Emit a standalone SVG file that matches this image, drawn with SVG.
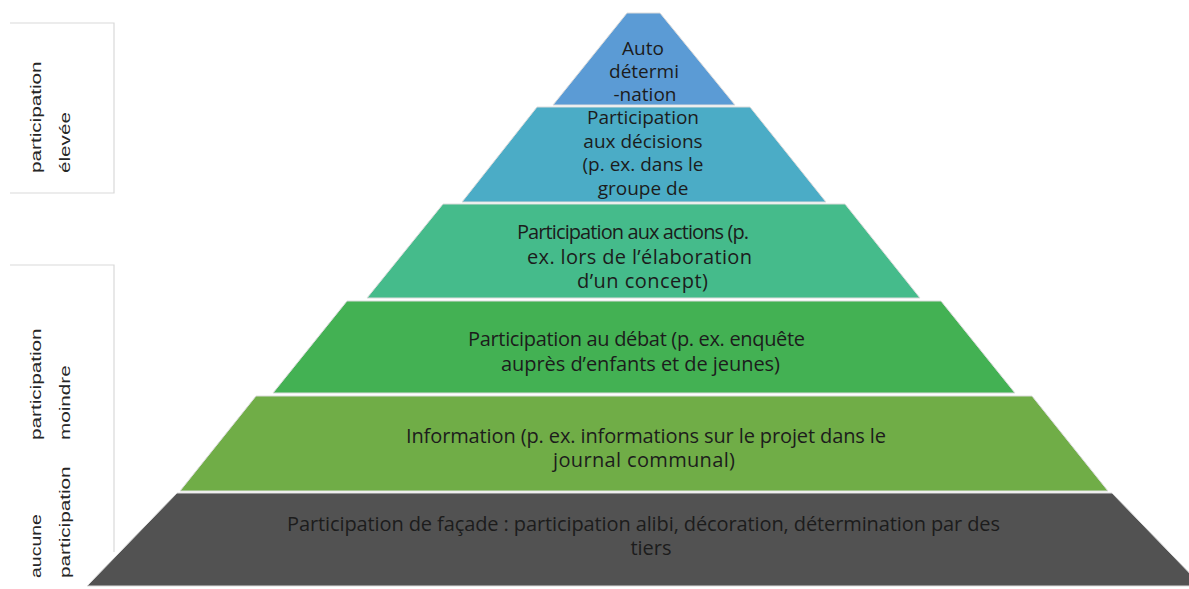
<svg xmlns="http://www.w3.org/2000/svg" width="1189" height="589" viewBox="0 0 1189 589">
  <style>
    .lvl { stroke: #dcdcdc; stroke-width: 1; }
    .pt { font-family: "Open Sans", "Noto Sans", sans-serif; font-size: 20px; fill: #1c1c1c; }
    .ps { font-size: 19px; }
    .pc { text-anchor: middle; }
    .lab { font-family: "Liberation Sans", Arial, sans-serif; font-size: 15px; fill: #262626; }
    .box { fill: #ffffff; stroke: #d9d9d9; stroke-width: 1.2; }
  </style>
  <rect width="1189" height="589" fill="#ffffff"/>

  <g id="label-high">
    <path class="box" d="M10,23 H114 V193 H10"/>
    <text class="lab" transform="translate(41,173) rotate(-90) scale(1.38,1)">participation</text>
    <text class="lab" transform="translate(70,173) rotate(-90) scale(1.38,1)">élevée</text>
  </g>

  <g id="label-low">
    <path class="box" d="M10,265 H114 V552"/>
    <text class="lab" transform="translate(41,440) rotate(-90) scale(1.38,1)">participation</text>
    <text class="lab" transform="translate(70,440) rotate(-90) scale(1.38,1)">moindre</text>
  </g>

  <g id="label-none">
    <text class="lab" transform="translate(41,578) rotate(-90) scale(1.3,1)">aucune</text>
    <text class="lab" transform="translate(70,578) rotate(-90) scale(1.38,1)">participation</text>
  </g>

  <g id="level-1">
    <polygon class="lvl" points="627,13 660,13 735,105 553,105" fill="#5B9BD5"/>
    <text class="pt ps pc" x="643" y="55">Auto</text>
    <text class="pt ps pc" x="644" y="78">détermi</text>
    <text class="pt ps pc" x="645" y="101">-nation</text>
  </g>

  <g id="level-2">
    <polygon class="lvl" points="537,107 750,107 826,202 462,202" fill="#4BACC6"/>
    <text class="pt ps pc" x="643" y="124">Participation</text>
    <text class="pt ps pc" x="643" y="148">aux décisions</text>
    <text class="pt ps pc" x="643" y="171">(p. ex. dans le</text>
    <text class="pt ps pc" x="643" y="195">groupe de</text>
  </g>

  <g id="level-3">
    <polygon class="lvl" points="443,204 845,204 920,298 367,298" fill="#45BB8B"/>
    <text class="pt" x="517" y="239" textLength="232">Participation aux actions (p.</text>
    <text class="pt" x="527" y="264" textLength="225">ex. lors de l’élaboration</text>
    <text class="pt" x="577" y="288" textLength="131">d’un concept)</text>
  </g>

  <g id="level-4">
    <polygon class="lvl" points="347,301 941,301 1015,393 273,393" fill="#43B153"/>
    <text class="pt" x="468" y="346" textLength="337">Participation au débat (p. ex. enquête</text>
    <text class="pt" x="501" y="371" textLength="279">auprès d’enfants et de jeunes)</text>
  </g>

  <g id="level-5">
    <polygon class="lvl" points="256,396 1032,396 1108,491 180,491" fill="#70AD47"/>
    <text class="pt" x="406" y="443" textLength="480">Information (p. ex. informations sur le projet dans le</text>
    <text class="pt" x="553" y="467" textLength="182">journal communal)</text>
  </g>

  <g id="level-6">
    <polygon class="lvl" points="177,493 1112,493 1202,586 87,586" fill="#525252"/>
    <text class="pt" x="287" y="531" textLength="713">Participation de façade : participation alibi, décoration, détermination par des</text>
    <text class="pt pc" x="651" y="555">tiers</text>
  </g>

  <g id="connectors"/>
</svg>
